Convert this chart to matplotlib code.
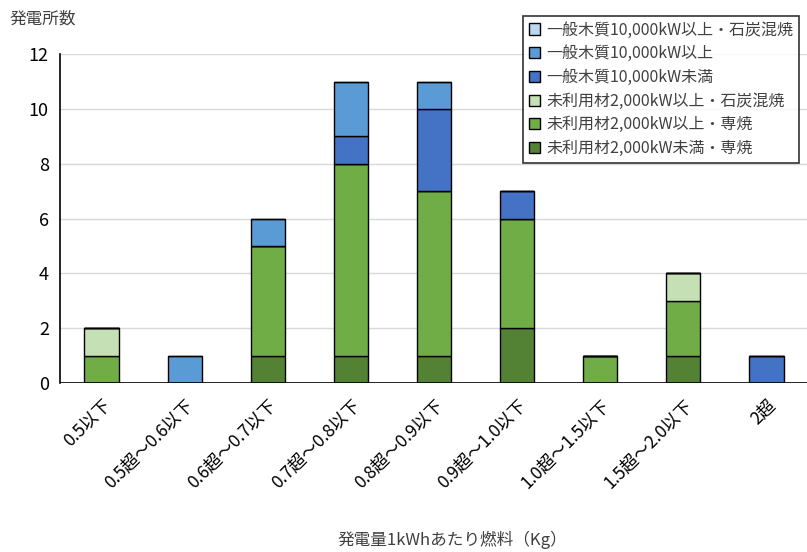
import matplotlib
matplotlib.use('Agg')
from matplotlib import pyplot as plt
import numpy as np

plt.rcParams['font.family'] = ['Noto Sans CJK JP', 'DejaVu Sans']

# カテゴリ
categories = ['0.5以下', '0.5超～0.6以下', '0.6超～0.7以下', '0.7超～0.8以下',
              '0.8超～0.9以下', '0.9超～1.0以下', '1.0超～1.5以下', '1.5超～2.0以下', '2超']

# 系列（下から積み上げ順）
mi_small = [0, 0, 1, 1, 1, 2, 0, 1, 0]        # 未利用材2,000kW未満・専焼
mi_large = [1, 0, 4, 7, 6, 4, 1, 2, 0]        # 未利用材2,000kW以上・専焼
mi_coal = [1, 0, 0, 0, 0, 0, 0, 1, 0]         # 未利用材2,000kW以上・石炭混焼
ip_small = [0, 0, 0, 1, 3, 1, 0, 0, 1]        # 一般木質10,000kW未満
ip_large = [0, 1, 1, 2, 1, 0, 0, 0, 0]        # 一般木質10,000kW以上
ip_coal = [0, 0, 0, 0, 0, 0, 0, 0, 0]         # 一般木質10,000kW以上・石炭混焼

series = [
    ('未利用材2,000kW未満・専焼', mi_small, '#548235'),
    ('未利用材2,000kW以上・専焼', mi_large, '#70ad47'),
    ('未利用材2,000kW以上・石炭混焼', mi_coal, '#c5e0b4'),
    ('一般木質10,000kW未満', ip_small, '#4472c4'),
    ('一般木質10,000kW以上', ip_large, '#5b9bd5'),
    ('一般木質10,000kW以上・石炭混焼', ip_coal, '#bdd7ee'),
]

fig = plt.figure(figsize=(8.07, 5.52), dpi=100)
ax = fig.add_axes([0.0743, 0.306, 0.927, 0.596])

x = np.arange(len(categories))
bottom = np.zeros(len(categories))
handles = []
for label, vals, color in series:
    vals = np.array(vals, dtype=float)
    b = ax.bar(x, vals, 0.41, bottom=bottom, color=color, edgecolor='black',
               linewidth=1, label=label, zorder=3)
    handles.append(b)
    bottom += vals

ax.set_xlim(-0.5, len(categories) - 0.5)
ax.set_ylim(0, 12)
ax.set_yticks(range(0, 13, 2))
ax.tick_params(axis='y', length=0, labelsize=13, pad=8)
ax.tick_params(axis='x', length=0, labelsize=12.5, pad=9)
ax.set_xticks(x)
ax.set_xticklabels(categories, rotation=45, ha='right', rotation_mode='anchor')
ax.grid(axis='y', color='#d9d9d9', linewidth=1, zorder=0)
for s in ['top', 'right', 'bottom']:
    ax.spines[s].set_visible(False)
ax.spines['left'].set_color('black')
ax.spines['left'].set_linewidth(1.2)
ax.axhline(0, color='black', linewidth=1.2, zorder=4)

fig.text(0.012, 0.965, '発電所数', fontsize=12, color='#404040', va='center', ha='left')
fig.text(0.56, 0.022, '発電量1kWhあたり燃料（Kg）', fontsize=12, color='#404040',
         va='center', ha='center')

leg = ax.legend(handles[::-1], [s[0] for s in series][::-1],
                loc='upper right', bbox_to_anchor=(0.9985, 1.14), fontsize=11.5,
                frameon=True, fancybox=False, edgecolor='black',
                handlelength=0.7, handleheight=0.7, handletextpad=0.4,
                labelspacing=0.42, borderpad=0.35)
leg.get_frame().set_linewidth(1.2)
for t in leg.get_texts():
    t.set_color('#404040')

plt.savefig('out.png', dpi=100)
plt.close()
